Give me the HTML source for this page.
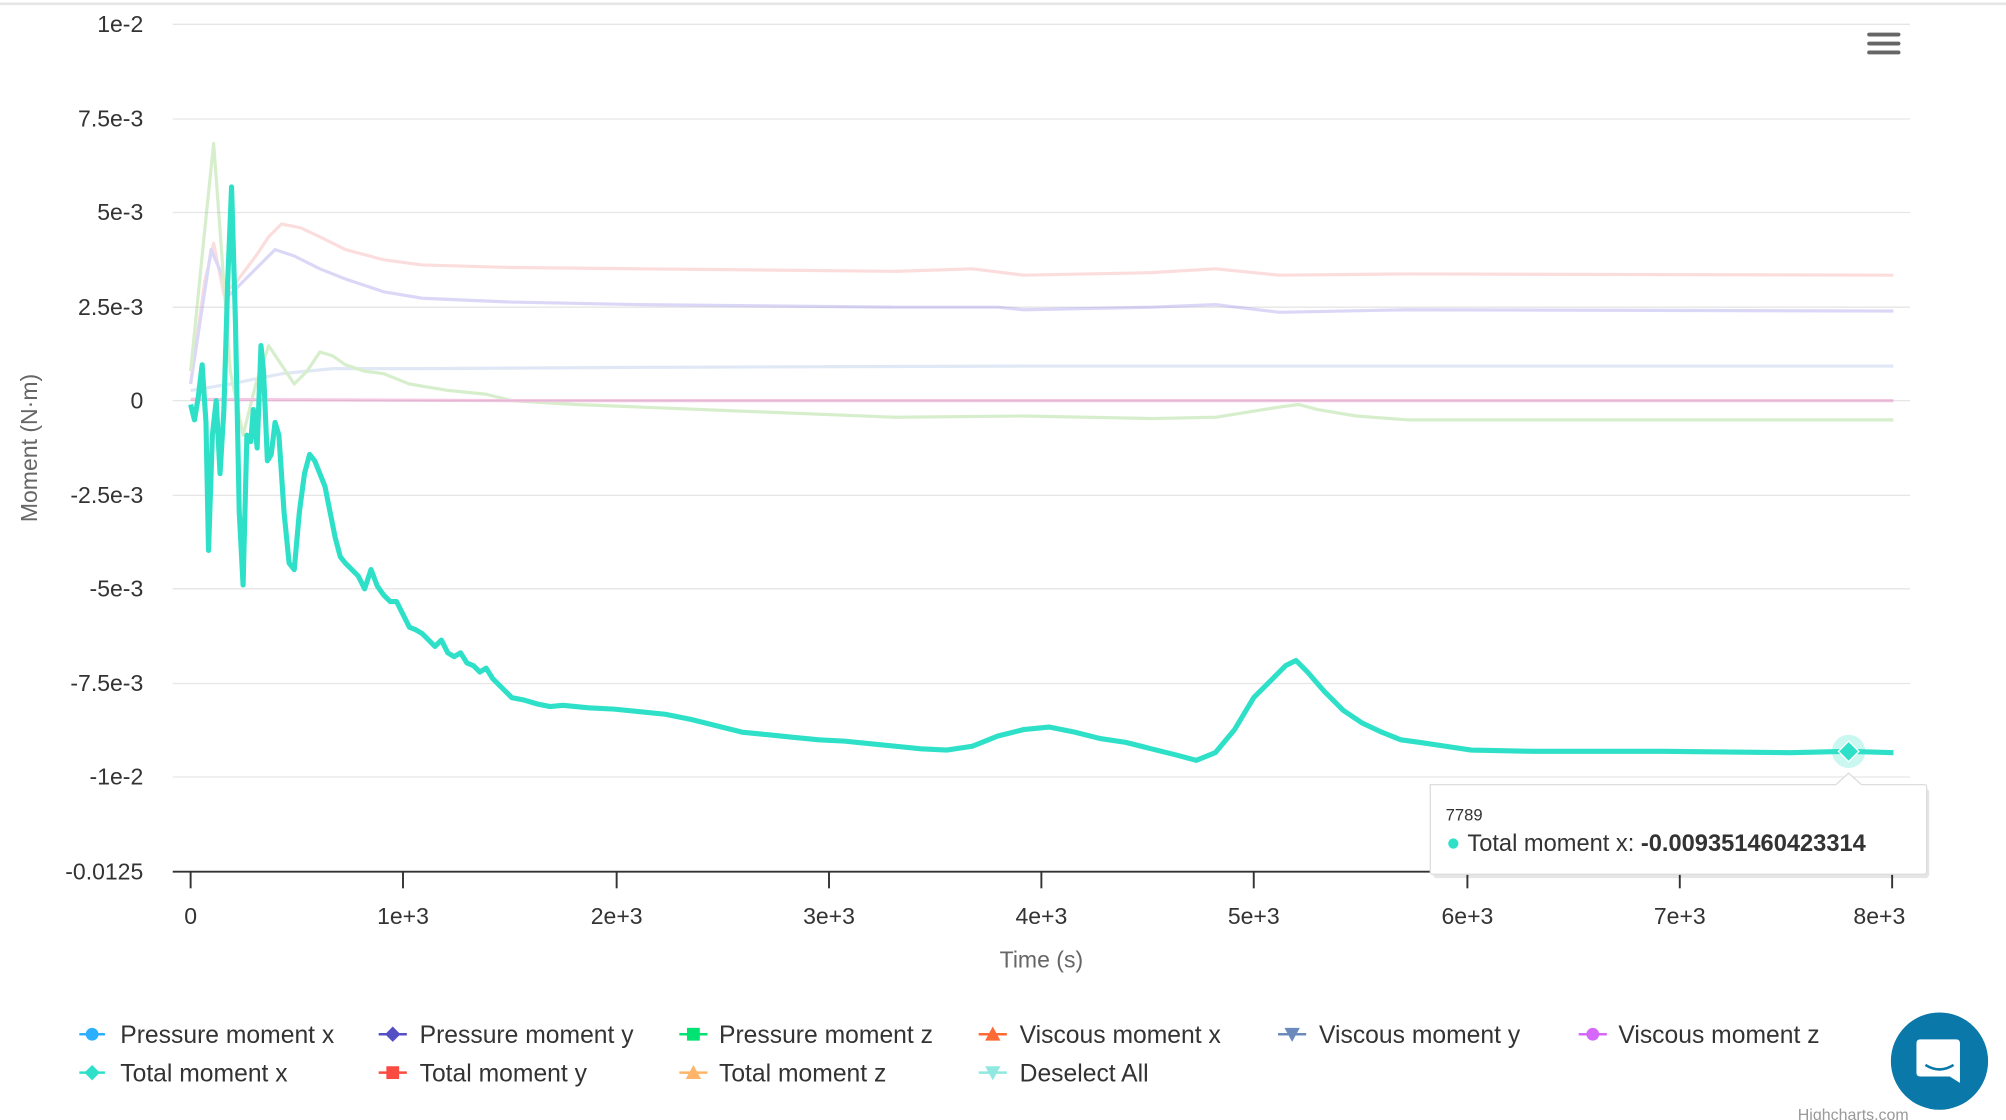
<!DOCTYPE html>
<html><head><meta charset="utf-8"><style>
html,body{margin:0;padding:0;background:#fff;width:2006px;height:1120px;overflow:hidden}
svg{display:block}
text{font-family:"Liberation Sans",sans-serif}
</style></head><body>
<svg width="2006" height="1120" viewBox="0 0 1568 875" preserveAspectRatio="none" xmlns="http://www.w3.org/2000/svg">
<rect x="0" y="0" width="1568" height="875" fill="#fff"/>
<line x1="0" y1="3" x2="1568" y2="3" stroke="#e6e6e6" stroke-width="2"/>
<g stroke="#e6e6e6" stroke-width="1">
<line x1="135" y1="19" x2="1493" y2="19"/><line x1="135" y1="93" x2="1493" y2="93"/>
<line x1="135" y1="166" x2="1493" y2="166"/><line x1="135" y1="240" x2="1493" y2="240"/>
<line x1="135" y1="313" x2="1493" y2="313"/><line x1="135" y1="387" x2="1493" y2="387"/>
<line x1="135" y1="460" x2="1493" y2="460"/><line x1="135" y1="534" x2="1493" y2="534"/>
<line x1="135" y1="607" x2="1493" y2="607"/>
</g>
<line x1="135" y1="681" x2="1493" y2="681" stroke="#333" stroke-width="1.5"/>
<g stroke="#333" stroke-width="1.5">
<line x1="149" y1="681" x2="149" y2="694"/><line x1="315" y1="681" x2="315" y2="694"/>
<line x1="482" y1="681" x2="482" y2="694"/><line x1="648" y1="681" x2="648" y2="694"/>
<line x1="814" y1="681" x2="814" y2="694"/><line x1="980" y1="681" x2="980" y2="694"/>
<line x1="1147" y1="681" x2="1147" y2="694"/><line x1="1313" y1="681" x2="1313" y2="694"/>
<line x1="1479" y1="681" x2="1479" y2="694"/>
</g>
<g font-size="18" fill="#333" text-anchor="end">
<text x="112" y="25">1e-2</text><text x="112" y="99">7.5e-3</text><text x="112" y="172">5e-3</text>
<text x="112" y="246">2.5e-3</text><text x="112" y="319">0</text><text x="112" y="393">-2.5e-3</text>
<text x="112" y="466">-5e-3</text><text x="112" y="540">-7.5e-3</text><text x="112" y="613">-1e-2</text>
<text x="112" y="687">-0.0125</text>
</g>
<g font-size="18" fill="#333" text-anchor="middle">
<text x="149" y="722">0</text><text x="315" y="722">1e+3</text><text x="482" y="722">2e+3</text>
<text x="648" y="722">3e+3</text><text x="814" y="722">4e+3</text><text x="980" y="722">5e+3</text>
<text x="1147" y="722">6e+3</text><text x="1313" y="722">7e+3</text><text x="1469" y="722">8e+3</text>
</g>
<text x="814" y="756" font-size="18" fill="#666" text-anchor="middle">Time (s)</text>
<text transform="translate(29,350) rotate(-90)" font-size="18" fill="#666" text-anchor="middle">Moment (N·m)</text>
<g fill="none" stroke-width="2.5" stroke-linejoin="round" opacity="0.35">
<polyline stroke="#f8a0a0" points="149,300 160,220 167,190 175,230 185,220 200,200 210,185 220,175 235,178 250,185 270,195 300,203 330,207 400,209 500,210 700,212 760,210 800,215 900,213 950,210 1000,215 1100,214 1480,215"/>
<polyline stroke="#9a90e8" points="149,300 165,195 180,230 200,210 215,195 230,200 250,210 270,218 300,228 330,233 400,236 500,238 700,240 780,240 800,242 900,240 950,238 1000,244 1100,242 1480,243"/>
<polyline stroke="#a9bfe6" points="149,305 180,300 220,292 260,288 330,288 500,287 800,286 1480,286"/>
<polyline stroke="#8fd070" points="149,290 160,180 167,112 172,180 180,290 190,340 200,300 210,270 220,285 230,300 240,290 250,275 260,278 270,285 285,290 300,292 320,300 350,305 380,308 400,313 450,316 500,318 600,322 700,326 800,325 900,327 950,326 1000,318 1015,316 1030,320 1060,325 1100,328 1480,328"/>
<polyline stroke="#e060b0" points="149,312 400,313 1480,313"/>
</g>
<polyline fill="none" stroke="#2ee0c8" stroke-width="4" stroke-linejoin="round" points="149,316 152,328 155,310 158,285 161,330 163,430 166,340 169,313 172,370 175,320 178,220 181,146 184,250 187,400 190,457 193,340 196,345 198,320 201,350 204,270 206,290 209,360 212,355 215,330 218,340 222,400 226,440 230,445 234,400 238,370 242,355 246,360 250,370 254,380 258,400 262,420 266,435 270,440 275,445 280,450 285,460 290,445 295,458 300,465 305,470 310,470 315,480 320,490 325,492 330,495 335,500 340,505 345,500 350,510 355,513 360,510 365,518 370,520 375,525 380,522 385,530 390,535 395,540 400,545 410,547 420,550 430,552 440,551 460,553 480,554 500,556 520,558 540,562 560,567 580,572 600,574 620,576 640,578 660,579 680,581 700,583 720,585 740,586 760,583 780,575 800,570 820,568 840,572 860,577 880,580 900,585 920,590 935,594 950,588 965,570 980,545 995,530 1005,520 1013,516 1022,525 1035,540 1050,555 1065,565 1080,572 1095,578 1110,580 1130,583 1150,586 1200,587 1300,587 1400,588 1445,587 1480,588"/>
<circle cx="1445" cy="587" r="13" fill="#2ee0c8" opacity="0.25"/>
<polygon points="1445,579 1453,587 1445,595 1437,587" fill="#2ee0c8" stroke="#fff" stroke-width="1"/>
<g>
<rect x="1120" y="616" width="388" height="70" rx="3" fill="#000" opacity="0.1"/>
<path d="M1118,613 H1435 L1445,604 L1455,613 H1504 Q1506,613 1506,615 V681 Q1506,683 1504,683 H1120 Q1118,683 1118,681 Z" fill="#fff" stroke="#ddd" stroke-width="1"/>
<text x="1130" y="641" font-size="13" fill="#333">7789</text>
<circle cx="1136" cy="659" r="4" fill="#2ee0c8"/>
<text x="1147" y="665" font-size="18.5" fill="#333">Total moment x: <tspan font-weight="bold">-0.009351460423314</tspan></text>
</g>
<g stroke="#666" stroke-width="3" stroke-linecap="round">
<line x1="1461" y1="27" x2="1484" y2="27"/><line x1="1461" y1="34" x2="1484" y2="34"/><line x1="1461" y1="41" x2="1484" y2="41"/>
</g>
<g font-size="19.3" fill="#333">
<line x1="62" y1="808" x2="82" y2="808" stroke="#2caffe" stroke-width="2"/><circle cx="72" cy="808" r="5" fill="#2caffe"/><text x="94" y="815">Pressure moment x</text>
<line x1="296" y1="808" x2="318" y2="808" stroke="#544fc5" stroke-width="2"/><polygon points="307,802 313,808 307,814 301,808" fill="#544fc5"/><text x="328" y="815">Pressure moment y</text>
<line x1="531" y1="808" x2="553" y2="808" stroke="#00e272" stroke-width="2"/><rect x="537" y="803" width="10" height="10" fill="#00e272"/><text x="562" y="815">Pressure moment z</text>
<line x1="765" y1="808" x2="787" y2="808" stroke="#fe6a35" stroke-width="2"/><polygon points="776,802 782,813 770,813" fill="#fe6a35"/><text x="797" y="815">Viscous moment x</text>
<line x1="999" y1="808" x2="1021" y2="808" stroke="#6b8abc" stroke-width="2"/><polygon points="1004,803 1016,803 1010,814" fill="#6b8abc"/><text x="1031" y="815">Viscous moment y</text>
<line x1="1234" y1="808" x2="1256" y2="808" stroke="#d568fb" stroke-width="2"/><circle cx="1245" cy="808" r="5" fill="#d568fb"/><text x="1265" y="815">Viscous moment z</text>
<line x1="62" y1="838" x2="82" y2="838" stroke="#2ee0ca" stroke-width="2"/><polygon points="72,832 78,838 72,844 66,838" fill="#2ee0ca"/><text x="94" y="845">Total moment x</text>
<line x1="296" y1="838" x2="318" y2="838" stroke="#fa4b42" stroke-width="2"/><rect x="302" y="833" width="10" height="10" fill="#fa4b42"/><text x="328" y="845">Total moment y</text>
<line x1="531" y1="838" x2="553" y2="838" stroke="#feb56a" stroke-width="2"/><polygon points="542,832 548,843 536,843" fill="#feb56a"/><text x="562" y="845">Total moment z</text>
<line x1="765" y1="838" x2="787" y2="838" stroke="#91e8e1" stroke-width="2"/><polygon points="770,833 782,833 776,844" fill="#91e8e1"/><text x="797" y="845">Deselect All</text>
</g>
<circle cx="1516" cy="829" r="38" fill="#0a78a8"/>
<path d="M1501,812 h28 q3,0 3,3 v31 l-8,-5 h-23 q-3,0 -3,-3 v-23 q0,-3 3,-3z" fill="#fff"/>
<path d="M1505,832 q11,7 22,0" fill="none" stroke="#0a78a8" stroke-width="2"/>
<text x="1492" y="875" font-size="12.5" fill="#999" text-anchor="end">Highcharts.com</text>
</svg>
</body></html>
